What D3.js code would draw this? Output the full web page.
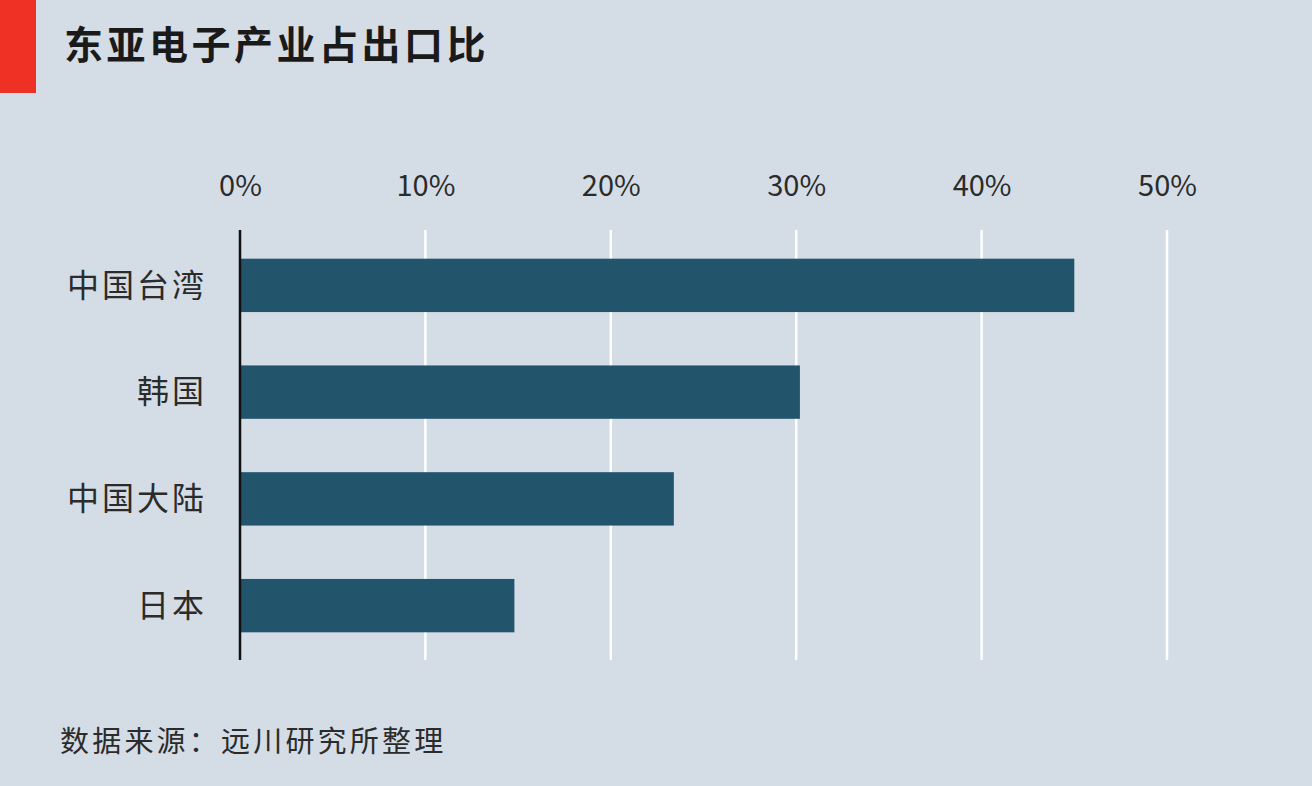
<!DOCTYPE html>
<html><head><meta charset="utf-8">
<script src="https://cdn.jsdelivr.net/npm/d3@7"></script>
<style>
html,body{margin:0;padding:0;background:#d4dde6;}
svg{display:block;}
text{font-family:"Noto Sans CJK SC","Noto Sans",sans-serif;}
</style></head>
<body>
<svg id="c" width="1312" height="786"></svg>
<script>
const categories = ["中国台湾","韩国","中国大陆","日本"];
const values = [45.0, 30.2, 23.4, 14.8];
const ticks = [0,10,20,30,40,50];
const title = "东亚电子产业占出口比";
const source = "数据来源：远川研究所整理";

const svg = d3.select("#c");
svg.append("rect").attr("width",1312).attr("height",786).attr("fill","#d4dde6");
svg.append("rect").attr("x",0).attr("y",0).attr("width",36).attr("height",93).attr("fill","#ee3124");
svg.append("text").attr("x",64).attr("y",59).attr("font-size",39).attr("font-weight",700)
  .attr("letter-spacing",3.5).attr("fill","#1a1a1a").text(title);

const x = d3.scaleLinear().domain([0,50]).range([240,1167]);
const y = d3.scaleBand().domain(categories).range([232,659]).paddingInner(0.5).paddingOuter(0.25);

svg.append("g").selectAll("line").data(ticks.filter(t=>t>0)).join("line")
  .attr("x1",d=>x(d)).attr("x2",d=>x(d)).attr("y1",230).attr("y2",660)
  .attr("stroke","#ffffff").attr("stroke-width",2.5);

const ax = d3.axisTop(x).tickValues(ticks).tickFormat(d=>d+"%").tickSize(0).tickPadding(0);
const gx = svg.append("g").attr("transform","translate(0,196)").call(ax);
gx.select(".domain").remove();
gx.selectAll("text").attr("font-size",29).attr("fill","#2b2b2b").attr("font-family","'Open Sans','Noto Sans',sans-serif");

svg.append("g").selectAll("rect").data(values).join("rect")
  .attr("x",x(0)).attr("y",(d,i)=>y(categories[i]))
  .attr("width",d=>x(d)-x(0)).attr("height",y.bandwidth())
  .attr("fill","#22546b");

svg.append("line").attr("x1",x(0)).attr("x2",x(0)).attr("y1",230).attr("y2",660)
  .attr("stroke","#111").attr("stroke-width",2.5);

const ay = d3.axisLeft(y).tickSize(0).tickPadding(33);
const gy = svg.append("g").attr("transform",`translate(${x(0)},0)`).call(ay);
gy.select(".domain").remove();
gy.selectAll("text").attr("font-size",32).attr("fill","#2b2b2b").attr("letter-spacing",3).attr("dy","0.35em");

svg.append("text").attr("x",60).attr("y",752).attr("font-size",29).attr("fill","#2b2b2b")
  .attr("letter-spacing",3.2).text(source);
</script>
</body></html>
